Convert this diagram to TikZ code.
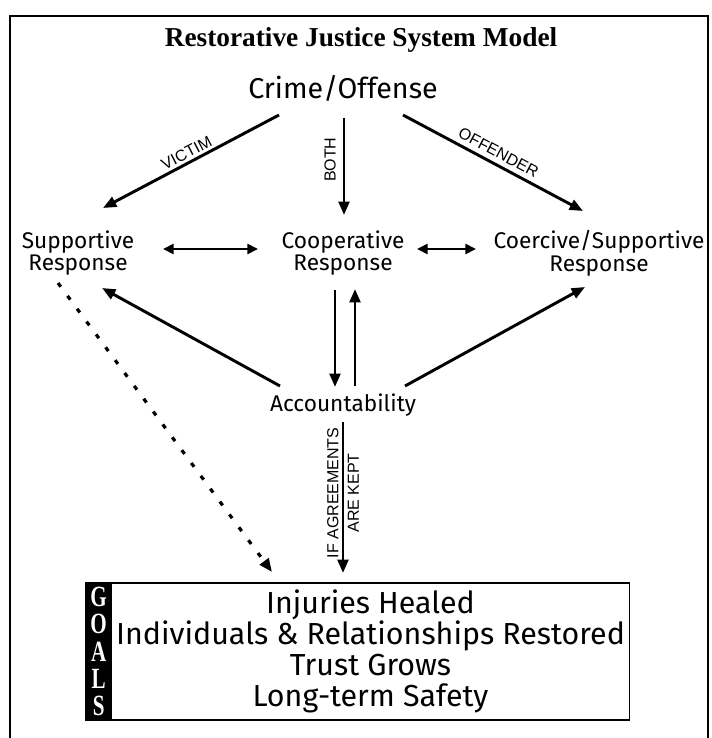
\documentclass[tikz,border=0pt]{standalone}
\usepackage{fontspec}
\setmainfont{Fira Sans}
\newfontfamily\serifhead{Liberation Serif}
\newfontfamily\capsfont{Liberation Sans}
\usetikzlibrary{arrows.meta,calc}

\begin{document}
\begin{tikzpicture}[x=0.75pt,y=0.75pt,yscale=-1,xscale=1,
  hand/.style={inner sep=0.75pt,align=center,font=\fontsize{17}{17}\selectfont},
  tag/.style={inner sep=2pt,font=\capsfont\fontsize{12}{15.5}\selectfont},
  arr/.style={line width=2.2pt,-{Triangle[length=10pt,width=8pt]}},
  twoway/.style={line width=2.2pt,{Triangle[length=8pt,width=7.5pt]}-{Triangle[length=8pt,width=7.5pt]}},
  dotarr/.style={line width=2.4pt,dash pattern={on 3.5pt off 8.5pt},-{Triangle[length=10pt,width=8pt]}}]
\useasboundingbox (0,0) rectangle (711,738);

%Shape: Frame (open at the bottom)
\draw [line width=1.8pt] (10,738) -- (10,16) -- (708,16) -- (708,738) ;

% Text Node
\node [inner sep=0.75pt,font=\serifhead\bfseries\fontsize{20.5}{20.5}\selectfont] (title) at (361,40) {Restorative Justice System Model};
% Text Node
\node [hand,font=\fontsize{21.5}{21.5}\selectfont] (crime) at (343,88) {Crime/Offense};
% Text Node
\node [hand] (supp) at (78,253) {Supportive\\Response};
% Text Node
\node [hand] (coop) at (343,253) {Cooperative\\Response};
% Text Node
\node [hand] (coer) at (599,253) {Coercive/Supportive\\Response};
% Text Node
\node [hand] (acc) at (343,405) {Accountability};

%Shape: Goals box
\node [draw,line width=1.1pt,outer sep=0pt,minimum width=383.25pt,minimum height=102.75pt,align=center,
       font=\fontsize{22.8}{23.25}\selectfont] (goals) at (370.5,651.5)
      {Injuries Healed\\Individuals \& Relationships Restored\\Trust Grows\\Long-term Safety};
\node [draw,fill=black,line width=1.1pt,outer sep=0pt,inner sep=0pt,anchor=north east,minimum width=27pt,minimum height=102.75pt,
       align=center,text=white,font=\serifhead\bfseries\fontsize{22}{20.5}\selectfont,xscale=0.72] (goalsbar) at (goals.north west)
      {G\\O\\A\\L\\S};

%Straight Lines from Crime/Offense
\draw [arr] ($(crime)+(-64,27)$) -- node [tag,rotate=27.3,anchor=south,pos=0.5] (lblvictim) {VICTIM} ($(supp)+(25,-45)$) ;
\draw [arr] ($(crime)+(1,30)$) -- node [tag,rotate=90,anchor=south,inner sep=5pt,pos=0.43] (lblboth) {BOTH} ($(coop)+(1,-38)$) ;
\draw [arr] ($(crime)+(60,27)$) -- node [tag,rotate=-28.1,anchor=south,inner sep=3.5pt,pos=0.5] (lbloffender) {OFFENDER} ($(coer)+(-16,-42)$) ;

%Straight Lines between responses
\draw [twoway] ($(supp)+(85,-4)$) -- ($(coop)+(-85,-4)$) ;
\draw [twoway] ($(coop)+(74,-4)$) -- ($(coer)+(-123,-4)$) ;

%Straight Lines around Accountability
\draw [arr] ($(acc)+(-63,-19)$) -- ($(supp)+(24,35)$) ;
\draw [arr] ($(acc)+(62,-19)$) -- ($(coer)+(-14,34)$) ;
\draw [arr] ($(coop)+(-8,37)$) -- ($(acc)+(-8,-18)$) ;
\draw [arr] ($(acc)+(12,-19)$) -- ($(coop)+(12,36)$) ;

%Straight Lines to the goals
\draw [arr] ($(acc)+(0,17)$) -- node [tag,rotate=90,align=center,pos=0.47] (lblagree) {IF AGREEMENTS\\ARE KEPT} ($(goals)+(-27.5,-78.5)$) ;
\draw [dotarr] ($(supp)+(-20,30)$) -- ($(goals)+(-98.5,-79.5)$) ;

\end{tikzpicture}
\end{document}
